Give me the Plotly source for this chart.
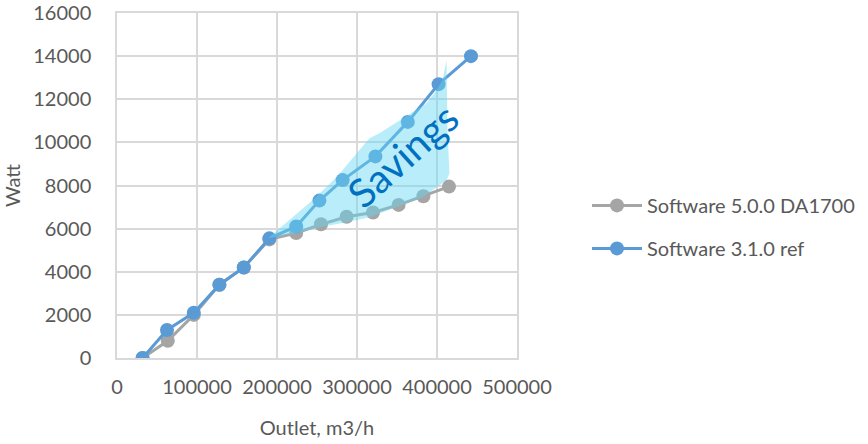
import plotly.graph_objects as go

# Series: Software 5.0.0 DA1700 (grey)
new_x = [32000, 63500, 96000, 128000, 158500, 190500, 224000, 255000, 287000, 320000, 352000, 383000, 415000]
new_y = [0, 800, 2000, 3400, 4200, 5500, 5800, 6200, 6550, 6750, 7100, 7500, 7950]

# Series: Software 3.1.0 ref (blue)
ref_x = [32000, 62500, 96000, 128000, 158500, 190500, 224000, 253000, 282000, 323000, 363500, 402000, 442500]
ref_y = [0, 1300, 2100, 3400, 4200, 5550, 6100, 7300, 8250, 9350, 10950, 12700, 14000]

# "Savings" highlighted region outline
sav_x = [190600, 215600, 244400, 274400, 303100, 315600, 328100, 356900, 386900, 399400, 406900,
         411900, 413100, 413100, 415600, 411900, 381900, 349400, 315600, 286900, 253100, 224400, 190600]
sav_y = [5612, 6387, 7314, 8381, 9633, 10190, 10422, 11118, 11814, 12417, 12881,
         13808, 11953, 10561, 8567, 8242, 7454, 6990, 6526, 6295, 6063, 5784, 5566]

x_ticks = [0, 100000, 200000, 300000, 400000, 500000]
y_ticks = [0, 2000, 4000, 6000, 8000, 10000, 12000, 14000, 16000]

FONT = "Lato"
TXT = "#595959"
GRID = "#D9D9D9"

fig = go.Figure()
fig.add_trace(go.Scatter(
    x=new_x, y=new_y, mode="lines+markers", name="Software 5.0.0 DA1700",
    line=dict(color="#A5A5A5", width=3), marker=dict(color="#A5A5A5", size=14),
    legendgroup="a"))
fig.add_trace(go.Scatter(
    x=ref_x, y=ref_y, mode="lines+markers", name="Software 3.1.0 ref",
    line=dict(color="#5B9BD5", width=3), marker=dict(color="#5B9BD5", size=14),
    legendgroup="b"))
fig.add_trace(go.Scatter(
    x=sav_x, y=sav_y, mode="lines", fill="toself",
    fillcolor="rgba(100,215,245,0.45)", line=dict(width=0),
    showlegend=False, hoverinfo="skip"))

fig.add_annotation(x=357500, y=9400, text="Savings", showarrow=False,
                   textangle=-42, font=dict(family=FONT, size=40, color="#0070C0"))

fig.update_xaxes(range=[0, 500000], tickvals=x_ticks, ticktext=[str(v) for v in x_ticks],
                 showgrid=True, gridcolor=GRID, gridwidth=1.5, zeroline=False,
                 showline=True, linecolor=GRID, linewidth=1.5, mirror=True,
                 ticks="outside", ticklen=10, tickcolor="rgba(0,0,0,0)",
                 tickfont=dict(family=FONT, size=20, color=TXT), automargin=False,
                 ticklabeloverflow="allow",
                 title=dict(text="Outlet, m3/h", font=dict(family=FONT, size=20, color=TXT), standoff=24))
fig.update_yaxes(range=[0, 16000], tickvals=y_ticks, ticktext=[str(v) for v in y_ticks],
                 showgrid=True, gridcolor=GRID, gridwidth=1.5, zeroline=False,
                 showline=True, linecolor=GRID, linewidth=1.5, mirror=True,
                 ticks="outside", ticklen=20, tickcolor="rgba(0,0,0,0)",
                 tickfont=dict(family=FONT, size=20, color=TXT), automargin=False,
                 ticklabeloverflow="allow",
                 title=dict(text="Watt", font=dict(family=FONT, size=20, color=TXT), standoff=11))

fig.update_layout(
    width=868, height=444,
    margin=dict(l=117, r=351, t=13, b=86, autoexpand=False),
    paper_bgcolor="white", plot_bgcolor="white",
    font=dict(family=FONT, size=20, color=TXT),
    showlegend=True,
    legend=dict(x=1.175, y=0.38, xanchor="left", yanchor="middle",
                font=dict(family=FONT, size=20, color=TXT),
                tracegroupgap=14, itemwidth=50, bgcolor="rgba(0,0,0,0)"),
)

fig.write_html("out.html", config={"displayModeBar": False},
               post_script="document.body.style.margin='0';document.body.style.overflow='hidden';")
